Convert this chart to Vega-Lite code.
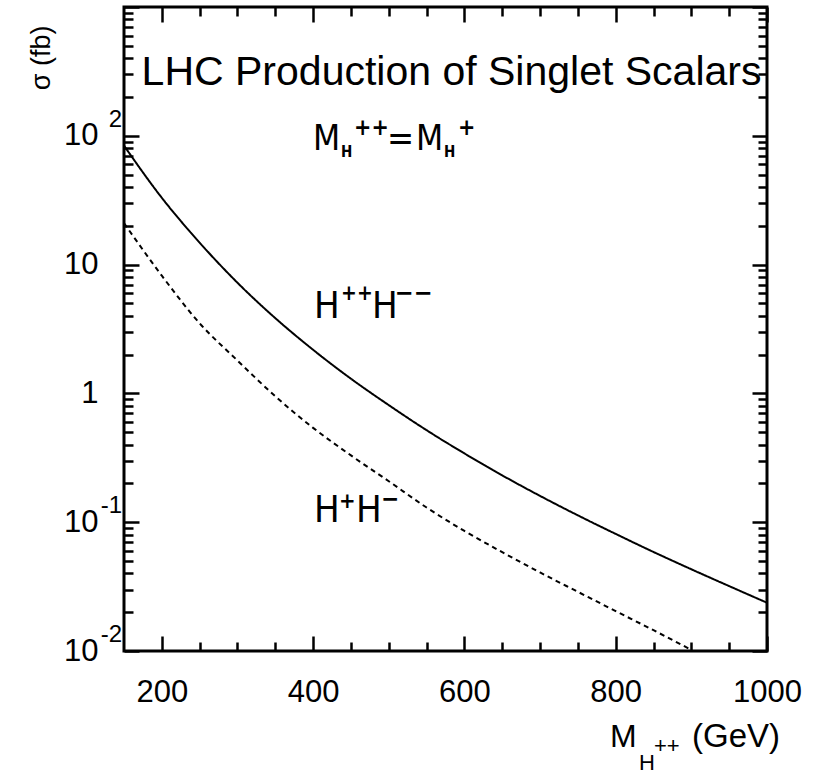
{
  "$schema": "https://vega.github.io/schema/vega-lite/v6.json",
  "width": 643,
  "height": 644,
  "autosize": {"type": "none"},
  "padding": {"left": 124, "top": 7, "right": 54, "bottom": 123},
  "background": "white",
  "config": {
    "view": {"stroke": "black", "strokeWidth": 3},
    "axis": {
      "domain": false,
      "grid": false,
      "tickColor": "black",
      "tickWidth": 2.5,
      "labelColor": "black",
      "labelFont": "Liberation Sans",
      "labelFontSize": 31,
      "labelOverlap": false,
      "labelFlush": false,
      "titleFont": "Liberation Sans",
      "titleFontWeight": "normal",
      "titleColor": "black"
    },
    "text": {"font": "Liberation Sans Narrow, DejaVu Sans Condensed, Liberation Sans", "color": "black"}
  },
  "resolve": {"axis": {"x": "independent", "y": "independent"}},
  "layer": [
    {
      "data": {"values": [
        {"m": 150, "sigma": 83.9, "pair": "H++H--"},
        {"m": 200, "sigma": 33.0, "pair": "H++H--"},
        {"m": 250, "sigma": 14.8, "pair": "H++H--"},
        {"m": 300, "sigma": 7.23, "pair": "H++H--"},
        {"m": 350, "sigma": 3.84, "pair": "H++H--"},
        {"m": 400, "sigma": 2.18, "pair": "H++H--"},
        {"m": 450, "sigma": 1.30, "pair": "H++H--"},
        {"m": 500, "sigma": 0.811, "pair": "H++H--"},
        {"m": 550, "sigma": 0.518, "pair": "H++H--"},
        {"m": 600, "sigma": 0.342, "pair": "H++H--"},
        {"m": 650, "sigma": 0.231, "pair": "H++H--"},
        {"m": 700, "sigma": 0.160, "pair": "H++H--"},
        {"m": 750, "sigma": 0.113, "pair": "H++H--"},
        {"m": 800, "sigma": 0.0811, "pair": "H++H--"},
        {"m": 850, "sigma": 0.0587, "pair": "H++H--"},
        {"m": 900, "sigma": 0.0431, "pair": "H++H--"},
        {"m": 950, "sigma": 0.0319, "pair": "H++H--"},
        {"m": 1000, "sigma": 0.0237, "pair": "H++H--"},
        {"m": 150, "sigma": 21, "pair": "H+H-"},
        {"m": 200, "sigma": 8.2, "pair": "H+H-"},
        {"m": 250, "sigma": 3.5, "pair": "H+H-"},
        {"m": 300, "sigma": 1.8, "pair": "H+H-"},
        {"m": 350, "sigma": 0.95, "pair": "H+H-"},
        {"m": 400, "sigma": 0.54, "pair": "H+H-"},
        {"m": 450, "sigma": 0.33, "pair": "H+H-"},
        {"m": 500, "sigma": 0.208, "pair": "H+H-"},
        {"m": 550, "sigma": 0.13, "pair": "H+H-"},
        {"m": 600, "sigma": 0.0855, "pair": "H+H-"},
        {"m": 650, "sigma": 0.0585, "pair": "H+H-"},
        {"m": 700, "sigma": 0.0407, "pair": "H+H-"},
        {"m": 750, "sigma": 0.0288, "pair": "H+H-"},
        {"m": 800, "sigma": 0.0204, "pair": "H+H-"},
        {"m": 850, "sigma": 0.0145, "pair": "H+H-"},
        {"m": 900, "sigma": 0.0102, "pair": "H+H-"}
      ]},
      "mark": {"type": "line", "color": "black", "strokeWidth": 2, "interpolate": "monotone"},
      "encoding": {
        "x": {
          "field": "m", "type": "quantitative",
          "scale": {"domain": [150, 1000], "nice": false, "zero": false},
          "axis": {
            "orient": "bottom",
            "values": [200, 250, 300, 350, 400, 450, 500, 550, 600, 650, 700, 750, 800, 850, 900, 950, 1000],
            "labelExpr": "datum.value % 200 == 0 ? format(datum.value, 'd') : ''",
            "tickSize": {"condition": {"test": "datum.value % 200 == 0", "value": -15}, "value": -9},
            "labelPadding": 41,
            "title": null
          }
        },
        "y": {
          "field": "sigma", "type": "quantitative",
          "scale": {"type": "log", "domain": [0.01, 1000], "nice": false},
          "axis": {
            "orient": "left",
            "values": [0.01,0.02,0.03,0.04,0.05,0.06,0.07,0.08,0.09,0.1,0.2,0.3,0.4,0.5,0.6,0.7,0.8,0.9,1,2,3,4,5,6,7,8,9,10,20,30,40,50,60,70,80,90,100,200,300,400,500,600,700,800,900,1000],
            "labelExpr": "abs(log(datum.value)/LN10 - round(log(datum.value)/LN10)) < 0.001 && datum.value < 999 ? (datum.value == 1 ? '1' : '10') : ''",
            "tickSize": {"condition": {"test": "abs(log(datum.value)/LN10 - round(log(datum.value)/LN10)) < 0.001", "value": -15}, "value": -9},
            "labelPadding": 41,
            "labelBaseline": "middle",
            "title": "σ (fb)",
            "titleFontSize": 27,
            "titleAngle": -90,
            "titleAlign": "right",
            "titleBaseline": "alphabetic",
            "titleX": -75,
            "titleY": 18
          }
        },
        "strokeDash": {
          "field": "pair", "type": "nominal",
          "scale": {"domain": ["H++H--", "H+H-"], "range": [[1, 0], [5, 4]]},
          "legend": null
        }
      }
    },
    {
      "data": {"values": [{"x": 583, "y": 248, "t": "LHC Production of Singlet Scalars"}]},
      "mark": {"type": "text", "font": "Liberation Sans", "fontSize": 41, "align": "center", "baseline": "alphabetic"},
      "encoding": {
        "x": {
          "field": "x", "type": "quantitative",
          "scale": {"domain": [150, 1000], "nice": false, "zero": false},
          "axis": {
            "orient": "top",
            "values": [200, 250, 300, 350, 400, 450, 500, 550, 600, 650, 700, 750, 800, 850, 900, 950, 1000],
            "labels": false,
            "tickSize": {"condition": {"test": "datum.value % 200 == 0", "value": -15}, "value": -9},
            "title": null
          }
        },
        "y": {
          "field": "y", "type": "quantitative",
          "scale": {"type": "log", "domain": [0.01, 1000], "nice": false},
          "axis": {
            "orient": "right",
            "values": [0.01,0.02,0.03,0.04,0.05,0.06,0.07,0.08,0.09,0.1,0.2,0.3,0.4,0.5,0.6,0.7,0.8,0.9,1,2,3,4,5,6,7,8,9,10,20,30,40,50,60,70,80,90,100,200,300,400,500,600,700,800,900,1000],
            "labels": false,
            "tickSize": {"condition": {"test": "abs(log(datum.value)/LN10 - round(log(datum.value)/LN10)) < 0.001", "value": -15}, "value": -9},
            "title": null
          }
        },
        "text": {"field": "t"}
      }
    },
    {
      "data": {"values": [{"x": 150, "y": 100, "t": "2"}, {"x": 150, "y": 0.1, "t": "-1"}, {"x": 150, "y": 0.01, "t": "-2"}]},
      "mark": {"type": "text", "font": "Liberation Sans", "fontSize": 24, "align": "right", "baseline": "alphabetic", "dx": -2, "dy": -9},
      "encoding": {
        "x": {"field": "x", "type": "quantitative", "scale": {"domain": [150, 1000], "nice": false, "zero": false}, "axis": null},
        "y": {"field": "y", "type": "quantitative", "scale": {"type": "log", "domain": [0.01, 1000], "nice": false}, "axis": null},
        "text": {"field": "t"}
      }
    },
    {
      "data": {"values": [{"x": 400, "y": 78, "t": "M"}]},
      "mark": {"type": "text", "fontSize": 35, "align": "left", "baseline": "alphabetic", "dx": 0},
      "encoding": {
        "x": {"field": "x", "type": "quantitative", "scale": {"domain": [150, 1000], "nice": false, "zero": false}, "axis": null},
        "y": {"field": "y", "type": "quantitative", "scale": {"type": "log", "domain": [0.01, 1000], "nice": false}, "axis": null},
        "text": {"field": "t"}
      }
    },
    {
      "data": {"values": [{"x": 400, "y": 78, "t": "H"}]},
      "mark": {"type": "text", "fontSize": 15, "fontWeight": "bold", "align": "left", "baseline": "alphabetic", "dx": 28, "dy": 7},
      "encoding": {
        "x": {"field": "x", "type": "quantitative", "scale": {"domain": [150, 1000], "nice": false, "zero": false}, "axis": null},
        "y": {"field": "y", "type": "quantitative", "scale": {"type": "log", "domain": [0.01, 1000], "nice": false}, "axis": null},
        "text": {"field": "t"}
      }
    },
    {
      "data": {"values": [{"x": 400, "y": 78, "t": "++"}]},
      "mark": {"type": "text", "fontSize": 23, "fontWeight": "bold", "align": "left", "baseline": "alphabetic", "dx": 41, "dy": -15},
      "encoding": {
        "x": {"field": "x", "type": "quantitative", "scale": {"domain": [150, 1000], "nice": false, "zero": false}, "axis": null},
        "y": {"field": "y", "type": "quantitative", "scale": {"type": "log", "domain": [0.01, 1000], "nice": false}, "axis": null},
        "text": {"field": "t"}
      }
    },
    {
      "data": {"values": [{"x": 400, "y": 78, "t": "="}]},
      "mark": {"type": "text", "fontSize": 36, "align": "left", "baseline": "alphabetic", "dx": 74, "dy": 0},
      "encoding": {
        "x": {"field": "x", "type": "quantitative", "scale": {"domain": [150, 1000], "nice": false, "zero": false}, "axis": null},
        "y": {"field": "y", "type": "quantitative", "scale": {"type": "log", "domain": [0.01, 1000], "nice": false}, "axis": null},
        "text": {"field": "t"}
      }
    },
    {
      "data": {"values": [{"x": 400, "y": 78, "t": "M"}]},
      "mark": {"type": "text", "fontSize": 35, "align": "left", "baseline": "alphabetic", "dx": 103},
      "encoding": {
        "x": {"field": "x", "type": "quantitative", "scale": {"domain": [150, 1000], "nice": false, "zero": false}, "axis": null},
        "y": {"field": "y", "type": "quantitative", "scale": {"type": "log", "domain": [0.01, 1000], "nice": false}, "axis": null},
        "text": {"field": "t"}
      }
    },
    {
      "data": {"values": [{"x": 400, "y": 78, "t": "H"}]},
      "mark": {"type": "text", "fontSize": 15, "fontWeight": "bold", "align": "left", "baseline": "alphabetic", "dx": 131, "dy": 7},
      "encoding": {
        "x": {"field": "x", "type": "quantitative", "scale": {"domain": [150, 1000], "nice": false, "zero": false}, "axis": null},
        "y": {"field": "y", "type": "quantitative", "scale": {"type": "log", "domain": [0.01, 1000], "nice": false}, "axis": null},
        "text": {"field": "t"}
      }
    },
    {
      "data": {"values": [{"x": 400, "y": 78, "t": "+"}]},
      "mark": {"type": "text", "fontSize": 23, "fontWeight": "bold", "align": "left", "baseline": "alphabetic", "dx": 145, "dy": -15},
      "encoding": {
        "x": {"field": "x", "type": "quantitative", "scale": {"domain": [150, 1000], "nice": false, "zero": false}, "axis": null},
        "y": {"field": "y", "type": "quantitative", "scale": {"type": "log", "domain": [0.01, 1000], "nice": false}, "axis": null},
        "text": {"field": "t"}
      }
    },
    {
      "data": {"values": [{"x": 400, "y": 3.85, "t": "H"}, {"x": 400, "y": 0.1, "t": "H"}]},
      "mark": {"type": "text", "fontSize": 38, "align": "left", "baseline": "alphabetic", "dx": 1},
      "encoding": {
        "x": {"field": "x", "type": "quantitative", "scale": {"domain": [150, 1000], "nice": false, "zero": false}, "axis": null},
        "y": {"field": "y", "type": "quantitative", "scale": {"type": "log", "domain": [0.01, 1000], "nice": false}, "axis": null},
        "text": {"field": "t"}
      }
    },
    {
      "data": {"values": [{"x": 400, "y": 3.85, "t": "++"}]},
      "mark": {"type": "text", "fontSize": 21, "fontWeight": "bold", "align": "left", "baseline": "alphabetic", "dx": 28, "dy": -18},
      "encoding": {
        "x": {"field": "x", "type": "quantitative", "scale": {"domain": [150, 1000], "nice": false, "zero": false}, "axis": null},
        "y": {"field": "y", "type": "quantitative", "scale": {"type": "log", "domain": [0.01, 1000], "nice": false}, "axis": null},
        "text": {"field": "t"}
      }
    },
    {
      "data": {"values": [{"x": 400, "y": 3.85, "t": "H"}]},
      "mark": {"type": "text", "fontSize": 38, "align": "left", "baseline": "alphabetic", "dx": 59},
      "encoding": {
        "x": {"field": "x", "type": "quantitative", "scale": {"domain": [150, 1000], "nice": false, "zero": false}, "axis": null},
        "y": {"field": "y", "type": "quantitative", "scale": {"type": "log", "domain": [0.01, 1000], "nice": false}, "axis": null},
        "text": {"field": "t"}
      }
    },
    {
      "data": {"values": [{"x": 400, "y": 3.85, "t": "−−"}]},
      "mark": {"type": "text", "fontSize": 25, "fontWeight": "bold", "align": "left", "baseline": "alphabetic", "dx": 82, "dy": -17},
      "encoding": {
        "x": {"field": "x", "type": "quantitative", "scale": {"domain": [150, 1000], "nice": false, "zero": false}, "axis": null},
        "y": {"field": "y", "type": "quantitative", "scale": {"type": "log", "domain": [0.01, 1000], "nice": false}, "axis": null},
        "text": {"field": "t"}
      }
    },
    {
      "data": {"values": [{"x": 400, "y": 0.1, "t": "+"}]},
      "mark": {"type": "text", "fontSize": 22, "fontWeight": "bold", "align": "left", "baseline": "alphabetic", "dx": 26, "dy": -14},
      "encoding": {
        "x": {"field": "x", "type": "quantitative", "scale": {"domain": [150, 1000], "nice": false, "zero": false}, "axis": null},
        "y": {"field": "y", "type": "quantitative", "scale": {"type": "log", "domain": [0.01, 1000], "nice": false}, "axis": null},
        "text": {"field": "t"}
      }
    },
    {
      "data": {"values": [{"x": 400, "y": 0.1, "t": "H"}]},
      "mark": {"type": "text", "fontSize": 38, "align": "left", "baseline": "alphabetic", "dx": 43},
      "encoding": {
        "x": {"field": "x", "type": "quantitative", "scale": {"domain": [150, 1000], "nice": false, "zero": false}, "axis": null},
        "y": {"field": "y", "type": "quantitative", "scale": {"type": "log", "domain": [0.01, 1000], "nice": false}, "axis": null},
        "text": {"field": "t"}
      }
    },
    {
      "data": {"values": [{"x": 400, "y": 0.1, "t": "−"}]},
      "mark": {"type": "text", "fontSize": 24, "fontWeight": "bold", "align": "left", "baseline": "alphabetic", "dx": 68, "dy": -15},
      "encoding": {
        "x": {"field": "x", "type": "quantitative", "scale": {"domain": [150, 1000], "nice": false, "zero": false}, "axis": null},
        "y": {"field": "y", "type": "quantitative", "scale": {"type": "log", "domain": [0.01, 1000], "nice": false}, "axis": null},
        "text": {"field": "t"}
      }
    },
    {
      "data": {"values": [{"x": 1000, "y": 0.01, "t": "M"}]},
      "mark": {"type": "text", "font": "Liberation Sans", "fontSize": 32, "align": "left", "baseline": "alphabetic", "dx": -157, "dy": 96},
      "encoding": {
        "x": {"field": "x", "type": "quantitative", "scale": {"domain": [150, 1000], "nice": false, "zero": false}, "axis": null},
        "y": {"field": "y", "type": "quantitative", "scale": {"type": "log", "domain": [0.01, 1000], "nice": false}, "axis": null},
        "text": {"field": "t"}
      }
    },
    {
      "data": {"values": [{"x": 1000, "y": 0.01, "t": "H"}]},
      "mark": {"type": "text", "font": "Liberation Sans", "fontSize": 22, "align": "left", "baseline": "alphabetic", "dx": -128, "dy": 119},
      "encoding": {
        "x": {"field": "x", "type": "quantitative", "scale": {"domain": [150, 1000], "nice": false, "zero": false}, "axis": null},
        "y": {"field": "y", "type": "quantitative", "scale": {"type": "log", "domain": [0.01, 1000], "nice": false}, "axis": null},
        "text": {"field": "t"}
      }
    },
    {
      "data": {"values": [{"x": 1000, "y": 0.01, "t": "++"}]},
      "mark": {"type": "text", "font": "Liberation Sans", "fontSize": 22, "align": "left", "baseline": "alphabetic", "dx": -113, "dy": 102},
      "encoding": {
        "x": {"field": "x", "type": "quantitative", "scale": {"domain": [150, 1000], "nice": false, "zero": false}, "axis": null},
        "y": {"field": "y", "type": "quantitative", "scale": {"type": "log", "domain": [0.01, 1000], "nice": false}, "axis": null},
        "text": {"field": "t"}
      }
    },
    {
      "data": {"values": [{"x": 1000, "y": 0.01, "t": "(GeV)"}]},
      "mark": {"type": "text", "font": "Liberation Sans", "fontSize": 33, "align": "left", "baseline": "alphabetic", "dx": -75, "dy": 96},
      "encoding": {
        "x": {"field": "x", "type": "quantitative", "scale": {"domain": [150, 1000], "nice": false, "zero": false}, "axis": null},
        "y": {"field": "y", "type": "quantitative", "scale": {"type": "log", "domain": [0.01, 1000], "nice": false}, "axis": null},
        "text": {"field": "t"}
      }
    }
  ]
}
